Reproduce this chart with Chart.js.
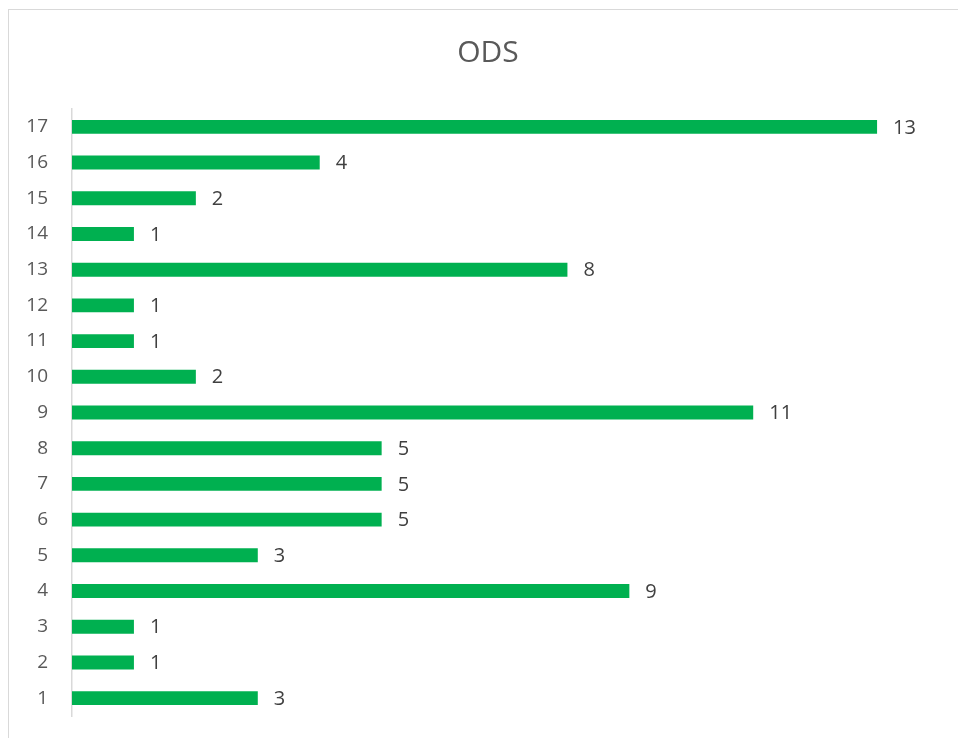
<!DOCTYPE html>
<html>
<head>
<meta charset="utf-8">
<script src="https://cdn.jsdelivr.net/npm/chart.js@4"></script>
<style>
  html, body { margin: 0; padding: 0; background: #fff; }
  #wrap { width: 958px; height: 738px; }
</style>
</head>
<body>
<div id="wrap"><canvas id="odsChart" width="958" height="738"></canvas></div>
<script>
var categories = ['1', '2', '3', '4', '5', '6', '7', '8', '9', '10', '11', '12', '13', '14', '15', '16', '17'];
var odsValues = [3, 1, 1, 9, 3, 5, 5, 5, 11, 2, 1, 1, 8, 1, 2, 4, 13];
var chartTitle = 'ODS';

// frame round the whole chart + title, like the spreadsheet export
var framePlugin = {
    id: 'frame',
    beforeDraw(chart) {
        let ctx = chart.ctx;
        ctx.save();
        ctx.strokeStyle = '#d9d9d9';
        ctx.lineWidth = 1;
        ctx.strokeRect(8.5, 9.5, 970, 740);
        ctx.fillStyle = '#595959';
        ctx.font = '30px "Open Sans"';
        ctx.textAlign = 'center';
        ctx.textBaseline = 'middle';
        ctx.fillText(chartTitle, 488, 53);
        ctx.restore();
    }
};

// value labels just right of each bar
var valueLabels = {
    id: 'valueLabels',
    afterDatasetsDraw(chart) {
        let ctx = chart.ctx;
        let meta = chart.getDatasetMeta(0);
        ctx.save();
        ctx.font = '20px "Open Sans"';
        ctx.fillStyle = '#404040';
        ctx.textAlign = 'left';
        ctx.textBaseline = 'middle';
        meta.data.forEach((bar, i) => {
            let p = bar.getProps(['x', 'y'], true);
            ctx.fillText(String(chart.data.datasets[0].data[i]), p.x + 16, p.y + 1);
        });
        ctx.restore();
    }
};

var chart = new Chart(document.getElementById('odsChart').getContext('2d'), {
    type: 'bar',
    data: {
        labels: categories,
        datasets: [{
            label: chartTitle,
            data: odsValues,
            backgroundColor: '#00b050',
            borderWidth: 0,
            barPercentage: 0.39,
            categoryPercentage: 1
        }]
    },
    options: {
        indexAxis: 'y',
        responsive: false,
        animation: false,
        layout: { padding: { left: 0, right: 19, top: 109, bottom: 22 } },
        scales: {
            x: { display: false, min: 0, max: 14 },
            y: {
                reverse: true,
                grid: { display: false, drawTicks: false },
                border: { display: true, color: '#d9d9d9', width: 1.5 },
                ticks: { color: '#595959', padding: 24, font: { family: 'Open Sans', size: 19 } },
                afterFit(scale) {
                    scale.width = 72;
                    scale.paddingTop = 0;
                    scale.paddingBottom = 0;
                }
            }
        },
        plugins: {
            legend: { display: false },
            tooltip: { enabled: false },
            title: { display: false }
        }
    },
    plugins: [framePlugin, valueLabels]
});
</script>
</body>
</html>
